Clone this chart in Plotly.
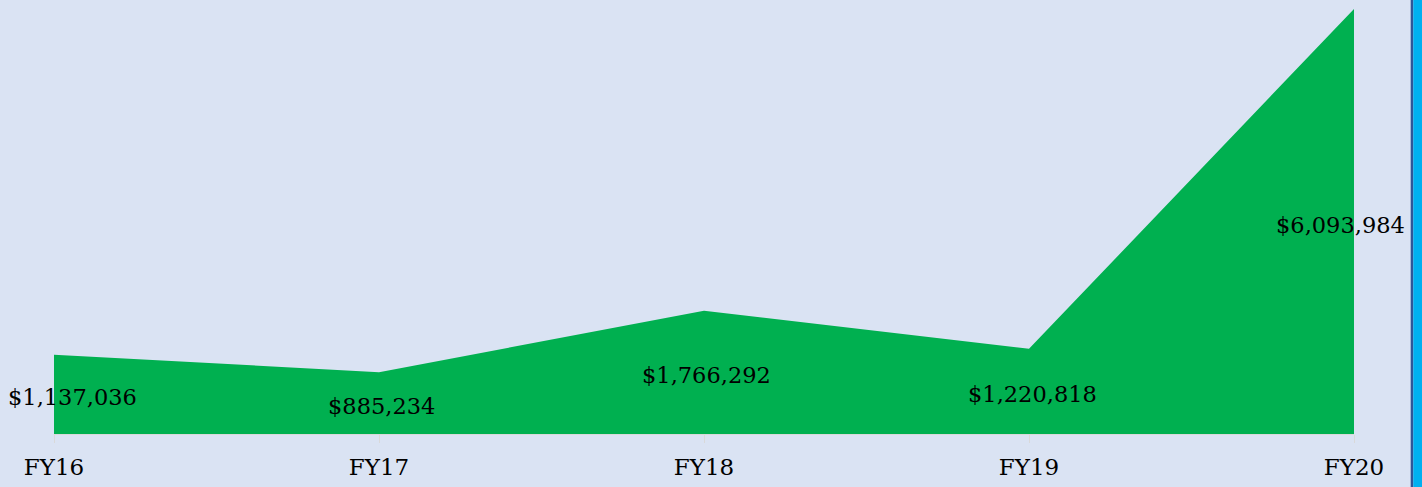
import plotly.graph_objects as go

categories = ["FY16", "FY17", "FY18", "FY19", "FY20"]
values = [1137036, 885234, 1766292, 1220818, 6093984]
label_xshift = [18, 2, 2, 3, -14]

BG = "#dae3f3"
GREEN = "#00b050"
FONT = "DejaVu Serif"

fig = go.Figure()
fig.add_trace(go.Scatter(
    x=categories, y=values, mode="lines", fill="tozeroy",
    fillcolor=GREEN, line=dict(width=0, color=GREEN), hoverinfo="skip",
))

for c, v, dx in zip(categories, values, label_xshift):
    fig.add_annotation(
        x=c, y=v / 2, text=f"${v:,.0f}", showarrow=False,
        xshift=dx, yshift=-3,
        font=dict(family=FONT, size=22.5, color="#000000"),
    )

# decorative right border
fig.add_shape(type="rect", xref="paper", yref="paper",
              x0=1.0436, x1=1.0456, y0=-0.2, y1=1.1,
              fillcolor="#2f5597", line=dict(width=0), layer="above")
fig.add_shape(type="rect", xref="paper", yref="paper",
              x0=1.0456, x1=1.06, y0=-0.2, y1=1.1,
              fillcolor="#00b0f0", line=dict(width=0), layer="above")

fig.update_layout(
    width=1422, height=487,
    margin=dict(l=54, r=68, t=9, b=53, autoexpand=False),
    paper_bgcolor=BG, plot_bgcolor=BG,
    showlegend=False,
    font=dict(family=FONT, size=22.5, color="#000000"),
    xaxis=dict(
        type="category", range=[0, 4], showgrid=False, zeroline=False,
        showline=True, linecolor="#d9d9d9", linewidth=1,
        ticks="outside", ticklen=8, tickcolor="#d9d9d9", tickwidth=1,
        ticklabelstandoff=4, automargin=False,
        tickfont=dict(family=FONT, size=23, color="#000000"),
        fixedrange=True,
    ),
    yaxis=dict(
        range=[0, 6093984], visible=False, showgrid=False, zeroline=False,
        fixedrange=True, automargin=False,
    ),
)

fig.write_html(
    "out.html",
    config=dict(displayModeBar=False),
    post_script="document.body.style.margin='0';document.body.style.overflow='hidden';",
)
